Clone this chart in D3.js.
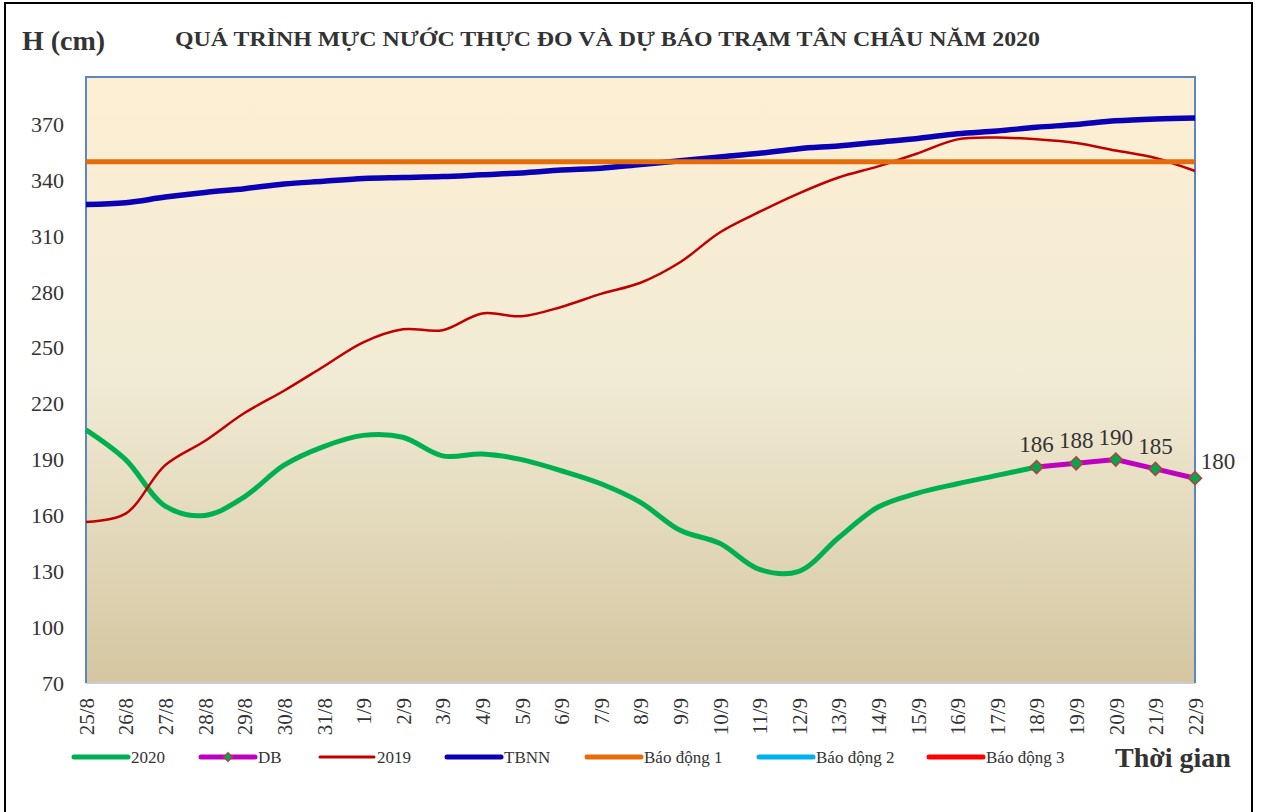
<!DOCTYPE html>
<html>
<head>
<meta charset="utf-8">
<script src="https://cdn.jsdelivr.net/npm/d3@7"></script>
<style>
  body { margin: 0; background: #fff; }
  svg { display: block; }
  text { font-family: "Liberation Serif", "Times New Roman", serif; }
</style>
</head>
<body>
<svg id="chart" width="1261" height="812"></svg>
<script>
// ---- data ----
const dates = ["25/8","26/8","27/8","28/8","29/8","30/8","31/8","1/9","2/9","3/9","4/9","5/9","6/9","7/9","8/9","9/9","10/9","11/9","12/9","13/9","14/9","15/9","16/9","17/9","18/9","19/9","20/9","21/9","22/9"];
const h2020 = [206, 190, 165, 160, 170, 187, 197, 203, 202, 192, 193, 190, 184, 177, 167, 152, 145, 131, 130, 148, 164.5, 172, 177, 181.5, 186];
const dbDates = ["18/9","19/9","20/9","21/9","22/9"];
const dbValues = [186, 188, 190, 185, 180];
const h2019 = [156.5, 161, 187, 200, 215, 227, 240, 253, 260, 259.5, 268.5, 267, 272, 279, 285, 296, 312, 323, 333, 341.5, 347.5, 354.5, 362, 363, 362, 360, 356, 352, 345];
const tbnn = [327, 328, 331, 333.5, 335.5, 338, 339.5, 341, 341.5, 342, 343, 344, 345.5, 346.5, 348.5, 350.5, 352.5, 354.5, 357, 358.5, 360.5, 362.5, 365, 366.5, 368.5, 370, 372, 373, 373.5];
const alarm1 = 350, alarm2 = 400, alarm3 = 450;
const yTicks = [70, 100, 130, 160, 190, 220, 250, 280, 310, 340, 370];
const legendNames = ["2020", "DB", "2019", "TBNN", "Báo động 1", "Báo động 2", "Báo động 3"];

// ---- layout ----
const svg = d3.select("#chart");
const L = 86, R = 1195, T = 77, B = 683;
const x = d3.scalePoint().domain(dates).range([L, R]);
const y = d3.scaleLinear().domain([70, 395.5]).range([B, T]);

const colors = {
  g2020: "#00B050", db: "#C000C0", r2019: "#C00000", tbnn: "#0A00B4",
  bd1: "#E46C0A", bd2: "#00B0F0", bd3: "#FF0000"
};

// outer frame
svg.append("rect").attr("x", 5).attr("y", 3).attr("width", 1247).attr("height", 812)
  .attr("fill", "#fff").attr("stroke", "#000").attr("stroke-width", 2);

// gradient
const defs = svg.append("defs");
const grad = defs.append("linearGradient").attr("id", "bg").attr("x1", 0).attr("x2", 0).attr("y1", 0).attr("y2", 1);
grad.append("stop").attr("offset", "0%").attr("stop-color", "#FDEFD3");
grad.append("stop").attr("offset", "50%").attr("stop-color", "#F1EBD5");
grad.append("stop").attr("offset", "100%").attr("stop-color", "#D4C6A0");
defs.append("clipPath").attr("id", "clip").append("rect")
  .attr("x", L - 4).attr("y", T).attr("width", R - L + 8).attr("height", B - T);

svg.append("rect").attr("x", L).attr("y", T).attr("width", R - L).attr("height", B - T)
  .attr("fill", "url(#bg)");
// plot border
svg.append("line").attr("x1", L).attr("x2", R).attr("y1", B).attr("y2", B)
  .attr("stroke", "#C8CCD4").attr("stroke-width", 2);
svg.append("path").attr("d", `M${L},${B}V${T}H${R}V${B}`)
  .attr("fill", "none").attr("stroke", "#5B86C5").attr("stroke-width", 2);

// y axis labels
const yAxis = svg.append("g").attr("transform", `translate(${L},0)`)
  .call(d3.axisLeft(y).tickValues(yTicks).tickSize(0).tickPadding(22));
yAxis.select(".domain").remove();
yAxis.selectAll("text").attr("font-size", 22).attr("fill", "#333")
  .style("font-family", "'Liberation Serif', serif");

// x axis labels
const xAxis = svg.append("g").attr("transform", `translate(0,${B})`)
  .call(d3.axisBottom(x).tickSize(0));
xAxis.select(".domain").remove();
xAxis.selectAll("text")
  .attr("font-size", 21).attr("fill", "#333")
  .style("font-family", "'Liberation Serif', serif")
  .attr("text-anchor", "end")
  .attr("transform", "translate(0,15) rotate(-90)")
  .attr("x", 0).attr("y", 0).attr("dy", "0.35em");

// lines
const g = svg.append("g").attr("clip-path", "url(#clip)");
const curve = d3.curveCatmullRom.alpha(0.5);
const mk = (cats) => d3.line().x((d, i) => x(cats[i])).y(d => y(d)).curve(curve);

g.append("path").datum(h2020).attr("d", mk(dates))
  .attr("fill", "none").attr("stroke", colors.g2020).attr("stroke-width", 5);
g.append("path").datum(h2019).attr("d", mk(dates))
  .attr("fill", "none").attr("stroke", colors.r2019).attr("stroke-width", 2.5);
g.append("path").datum(tbnn).attr("d", mk(dates))
  .attr("fill", "none").attr("stroke", colors.tbnn).attr("stroke-width", 5.5);
[[alarm1, colors.bd1], [alarm2, colors.bd2], [alarm3, colors.bd3]].forEach(([v, c]) => {
  g.append("path").datum(dates.map(() => v)).attr("d", mk(dates))
    .attr("fill", "none").attr("stroke", c).attr("stroke-width", 5);
});
g.append("path").datum(dbValues).attr("d", d3.line().x((d, i) => x(dbDates[i])).y(d => y(d)))
  .attr("fill", "none").attr("stroke", colors.db).attr("stroke-width", 5);

// markers
const diamond = d3.symbol().type(d3.symbolDiamond2 || d3.symbolDiamond).size(110);
svg.append("g").selectAll("path").data(dbValues).join("path")
  .attr("d", diamond)
  .attr("transform", (d, i) => `translate(${x(dbDates[i])},${y(d)})`)
  .attr("fill", "#00A651").attr("stroke", "#B5403A").attr("stroke-width", 1.5);

// data labels
svg.append("g").selectAll("text").data(dbValues).join("text")
  .attr("x", (d, i) => i === dbValues.length - 1 ? x(dbDates[i]) + 23 : x(dbDates[i]))
  .attr("y", (d, i) => i === dbValues.length - 1 ? y(d) - 9 : y(d) - 15)
  .attr("text-anchor", "middle")
  .attr("font-size", 23).attr("fill", "#333")
  .text(d => d);

// title texts
svg.append("text").attr("x", 22).attr("y", 50).attr("font-size", 28).attr("font-weight", "bold")
  .attr("fill", "#333").text("H (cm)");
svg.append("text").attr("x", 175).attr("y", 46).attr("font-size", 20).attr("font-weight", "bold")
  .attr("fill", "#333").attr("textLength", 865).attr("lengthAdjust", "spacingAndGlyphs")
  .text("QUÁ TRÌNH MỰC NƯỚC THỰC ĐO VÀ DỰ BÁO TRẠM TÂN CHÂU NĂM 2020");

// legend
const legendItems = [
  { name: legendNames[0], color: colors.g2020, x0: 74, w: 5 },
  { name: legendNames[1], color: colors.db, x0: 201, w: 5, marker: true },
  { name: legendNames[2], color: colors.r2019, x0: 320, w: 3 },
  { name: legendNames[3], color: colors.tbnn, x0: 447, w: 5 },
  { name: legendNames[4], color: colors.bd1, x0: 587, w: 5 },
  { name: legendNames[5], color: colors.bd2, x0: 759, w: 5 },
  { name: legendNames[6], color: colors.bd3, x0: 929, w: 5 }
];
const ly = 757;
const lg = svg.append("g");
legendItems.forEach(it => {
  lg.append("line").attr("x1", it.x0).attr("x2", it.x0 + 54).attr("y1", ly).attr("y2", ly)
    .attr("stroke", it.color).attr("stroke-width", it.w).attr("stroke-linecap", "round");
  if (it.marker) {
    lg.append("path").attr("d", d3.symbol().type(d3.symbolDiamond2 || d3.symbolDiamond).size(50))
      .attr("transform", `translate(${it.x0 + 27},${ly})`)
      .attr("fill", "#00A651").attr("stroke", "#B5403A").attr("stroke-width", 1.2);
  }
  lg.append("text").attr("x", it.x0 + 57).attr("y", ly + 6).attr("font-size", 17)
    .attr("fill", "#333").text(it.name);
});
svg.append("text").attr("x", 1115).attr("y", 767).attr("font-size", 28).attr("font-weight", "bold")
  .attr("fill", "#333").text("Thời gian");
</script>
</body>
</html>
